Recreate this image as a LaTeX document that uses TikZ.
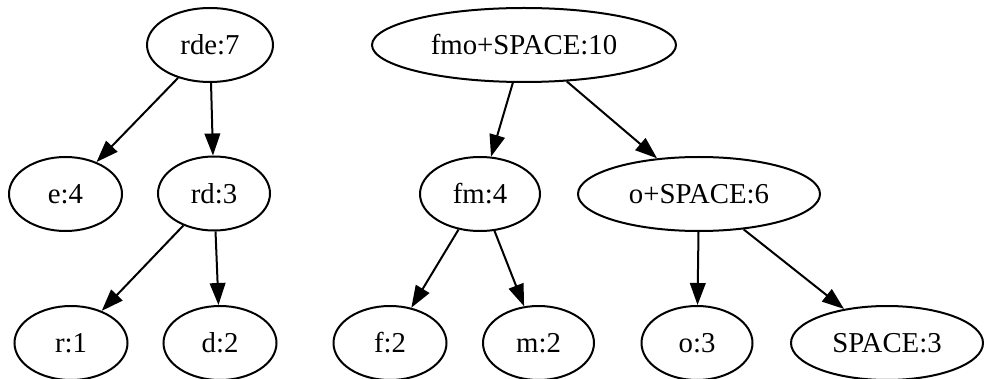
\documentclass[tikz,border=0pt]{standalone}
\usepackage{fontspec}
\setmainfont{Liberation Serif}
\usetikzlibrary{shapes.geometric,arrows.meta}
\begin{document}
\begin{tikzpicture}[x=0.5pt,y=-0.5pt,
  nd/.style={ellipse,draw,line width=1pt,inner sep=0pt,minimum height=37pt,font=\fontsize{14.4}{16}\selectfont},
  ed/.style={line width=1pt,-{Triangle[length=11pt,width=7.8pt]}}]
\useasboundingbox (0,0) rectangle (984,379);
\node[nd,minimum width=63pt]   (rde)  at (210,45)  {rde:7};
\node[nd,minimum width=56.5pt] (e)    at (65.5,194) {e:4};
\node[nd,minimum width=56pt]   (rd)   at (214,193.5) {rd:3};
\node[nd,minimum width=56.5pt] (r)    at (71,343)  {r:1};
\node[nd,minimum width=56.5pt] (d)    at (220,343) {d:2};
\node[nd,minimum width=152pt]  (fmo)  at (524,45)  {fmo+SPACE:10};
\node[nd,minimum width=60pt]   (fm)   at (480,194) {fm:4};
\node[nd,minimum width=121pt]  (os)   at (699,194) {o+SPACE:6};
\node[nd,minimum width=56.5pt] (f)    at (390,343) {f:2};
\node[nd,minimum width=55.5pt] (m)    at (538.5,343) {m:2};
\node[nd,minimum width=55.5pt] (o)    at (697,343) {o:3};
\node[nd,minimum width=96pt]   (sp)   at (887,343) {SPACE:3};
\draw[ed] (rde) -- (e);
\draw[ed] (rde) -- (rd);
\draw[ed] (rd) -- (r);
\draw[ed] (rd) -- (d);
\draw[ed] (fmo) -- (fm);
\draw[ed] (fmo) -- (os);
\draw[ed] (fm) -- (f);
\draw[ed] (fm) -- (m);
\draw[ed] (os) -- (o);
\draw[ed] (os) -- (sp);
\end{tikzpicture}
\end{document}
